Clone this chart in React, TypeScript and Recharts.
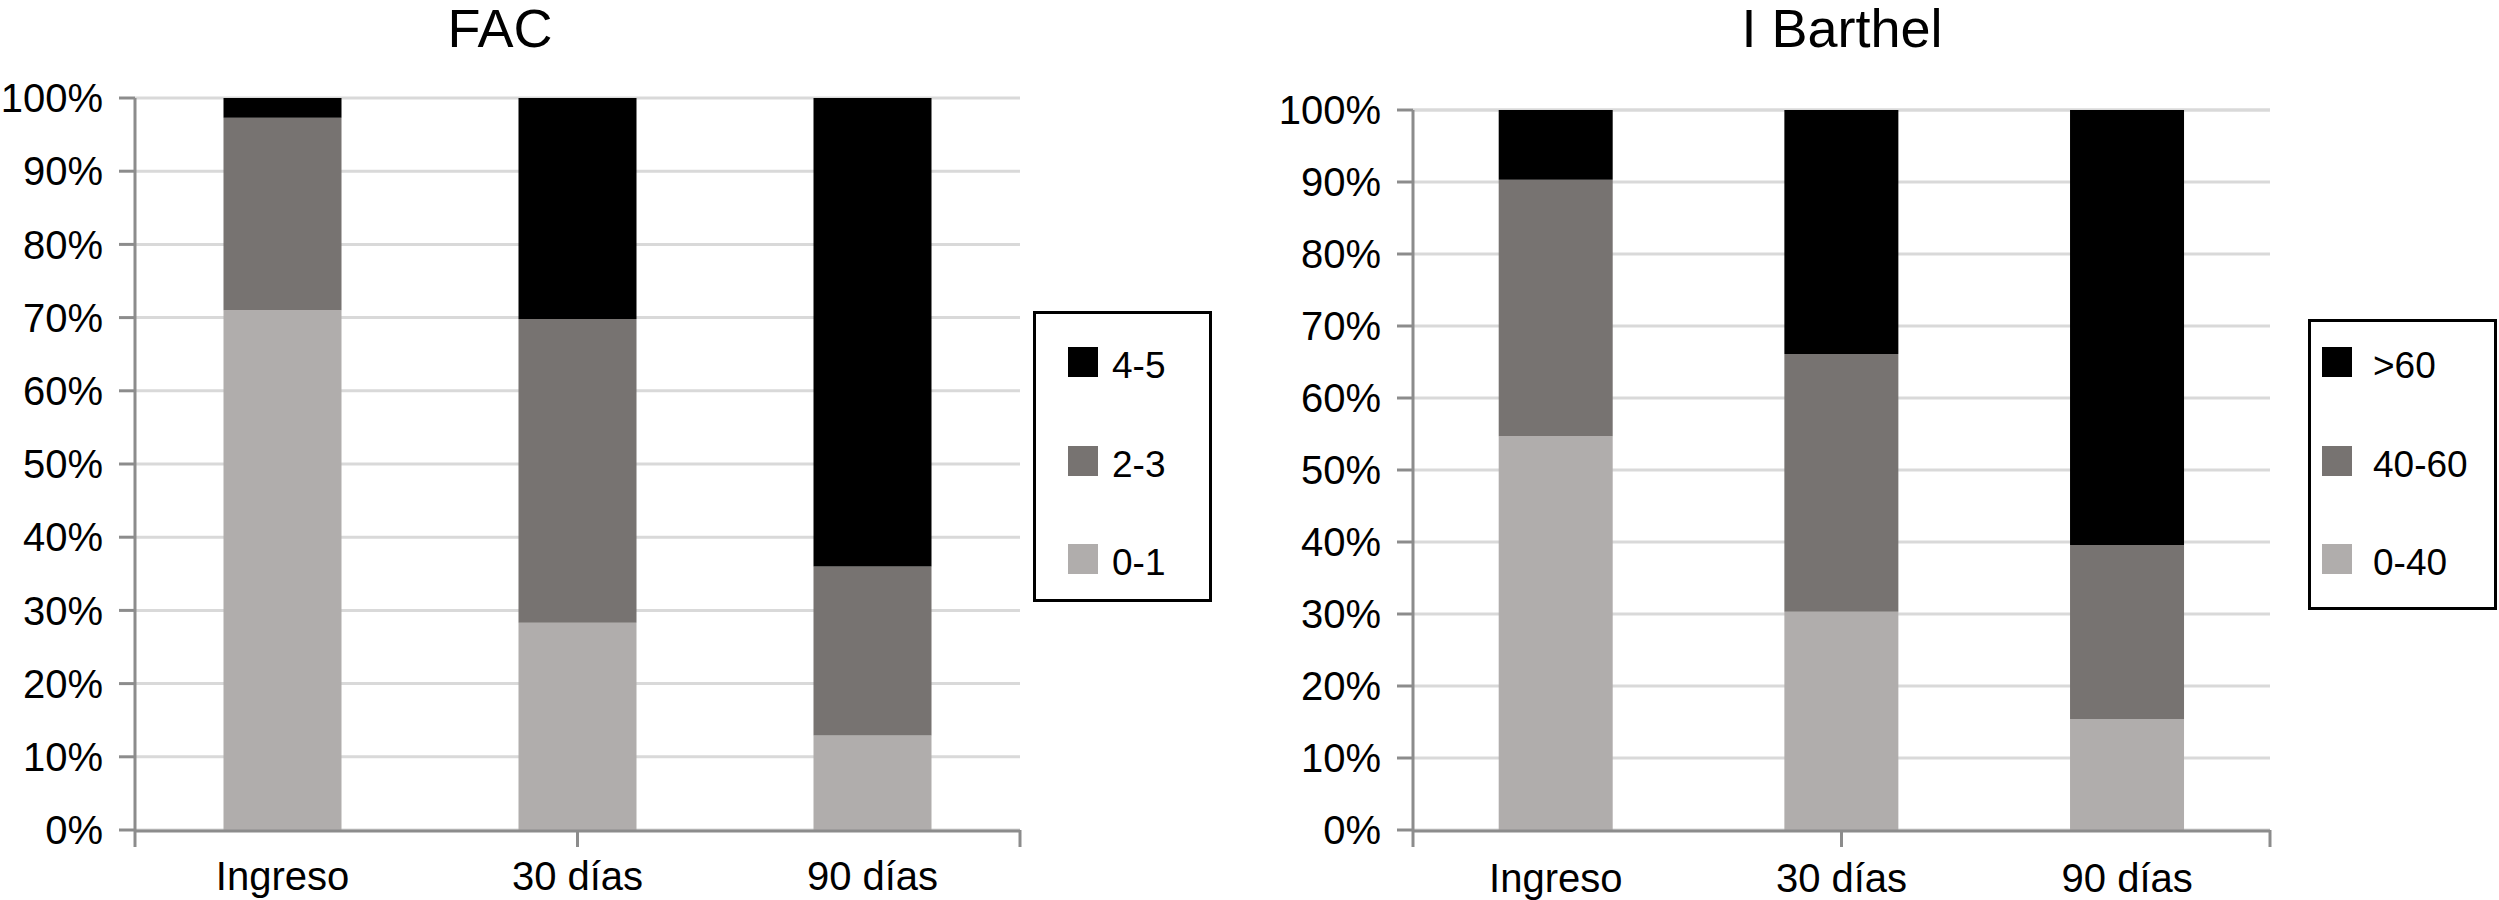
import React from "react";
import { Bar, BarChart, CartesianGrid, Legend, XAxis, YAxis } from "recharts";

const periods = ["Ingreso", "30 días", "90 días"];

// FAC distribution (% of patients)
const facLow = [71.0, 28.3, 12.9]; // 0-1
const facMid = [26.3, 41.5, 23.1]; // 2-3
const facHigh = [2.7, 30.2, 64.0]; // 4-5
const facLabels = ["0-1", "2-3", "4-5"];

// Barthel index distribution (% of patients)
const barthelLow = [54.7, 30.3, 15.4]; // 0-40
const barthelMid = [35.6, 35.8, 24.2]; // 40-60
const barthelHigh = [9.7, 33.9, 60.4]; // >60
const barthelLabels = ["0-40", "40-60", ">60"];

const percentTicks = [0, 10, 20, 30, 40, 50, 60, 70, 80, 90, 100];
const edgeTicks = [0, 1, 2, 3];
const shades = ["#b0adac", "#777371", "#000000"];

const font = "'Liberation Sans', Arial, Helvetica, sans-serif";
const axisGray = "#8c8c8c";
const gridGray = "#d9d9d9";

// axis ids: the boundary-tick axis must sit first, right on the plot edge
const EDGE = "a_edge";
const CAT = "b_cat";

type Row = { period: string; low: number; mid: number; high: number };

const buildRows = (low: number[], mid: number[], high: number[]): Row[] =>
  periods.map((period, i) => ({ period, low: low[i], mid: mid[i], high: high[i] }));

type LegendCfg = {
  top: number;
  right: number;
  offsetLeft: number;
  boxW: number;
  boxH: number;
  padLeft: number;
  gap: number;
  firstTop: number;
};

const BoxLegend = ({ payload, cfg }: { payload?: any[]; cfg: LegendCfg }) => {
  const items = [...(payload ?? [])].reverse();
  return (
    <div
      style={{
        marginLeft: cfg.offsetLeft,
        width: cfg.boxW,
        height: cfg.boxH,
        border: "3px solid #000",
        boxSizing: "border-box",
        position: "relative",
        background: "#fff",
      }}
    >
      {items.map((item, i) => (
        <div
          key={item.value}
          style={{
            position: "absolute",
            left: cfg.padLeft - 3,
            top: cfg.firstTop - 3 + i * 98.5,
            display: "flex",
            alignItems: "flex-start",
          }}
        >
          <div style={{ width: 30, height: 30, background: item.color }} />
          <span
            style={{
              marginLeft: cfg.gap,
              marginTop: 4,
              fontSize: 37,
              lineHeight: "30px",
              fontFamily: font,
              color: "#000",
              whiteSpace: "nowrap",
            }}
          >
            {item.value}
          </span>
        </div>
      ))}
    </div>
  );
};

// tick marks only, no text, for the category boundaries
const noLabel = () => <g />;

type PanelProps = {
  rows: Row[];
  labels: string[];
  width: number;
  top: number;
  right: number;
  yAxisWidth: number;
  xTickMargin: number;
  legend: LegendCfg;
};

function StackedPanel({ rows, labels, width, top, right, yAxisWidth, xTickMargin, legend }: PanelProps) {
  return (
    <BarChart
      width={width}
      height={900}
      data={rows}
      margin={{ top, right, bottom: 0, left: 0 }}
      barCategoryGap="30%"
    >
      <CartesianGrid vertical={false} stroke={gridGray} strokeWidth={3} xAxisId={CAT} />
      <XAxis
        xAxisId={EDGE}
        type="number"
        domain={[0, 3]}
        ticks={edgeTicks}
        interval={0}
        tick={noLabel}
        axisLine={false}
        tickLine={{ stroke: axisGray, strokeWidth: 3 }}
        tickSize={17}
        height={1}
      />
      <XAxis
        xAxisId={CAT}
        dataKey="period"
        tickLine={false}
        tickSize={16}
        tickMargin={xTickMargin}
        axisLine={{ stroke: axisGray, strokeWidth: 3 }}
        tick={{ fill: "#000", fontSize: 40, fontFamily: font }}
        interval={0}
        height={69}
      />
      <YAxis
        domain={[0, 100]}
        ticks={percentTicks}
        interval={0}
        tickFormatter={(v: number) => `${v}%`}
        width={yAxisWidth}
        tickSize={16}
        tickMargin={16}
        axisLine={{ stroke: axisGray, strokeWidth: 3 }}
        tickLine={{ stroke: axisGray, strokeWidth: 3 }}
        tick={{ fill: "#000", fontSize: 40, fontFamily: font }}
      />
      <Legend
        layout="vertical"
        align="right"
        verticalAlign="middle"
        wrapperStyle={{ top: legend.top, right: legend.right, left: "auto", width: "auto" }}
        content={(props: any) => <BoxLegend payload={props.payload} cfg={legend} />}
      />
      <Bar xAxisId={CAT} dataKey="low" stackId="s" name={labels[0]} fill={shades[0]} isAnimationActive={false} />
      <Bar xAxisId={CAT} dataKey="mid" stackId="s" name={labels[1]} fill={shades[1]} isAnimationActive={false} />
      <Bar xAxisId={CAT} dataKey="high" stackId="s" name={labels[2]} fill={shades[2]} isAnimationActive={false} />
    </BarChart>
  );
}

const titleStyle = (center: number): React.CSSProperties => ({
  position: "absolute",
  left: center - 300,
  top: 1,
  width: 600,
  textAlign: "center",
  fontFamily: font,
  fontSize: 54,
  lineHeight: "54px",
  color: "#000",
});

export default function App() {
  const facRows = buildRows(facLow, facMid, facHigh);
  const barthelRows = buildRows(barthelLow, barthelMid, barthelHigh);

  return (
    <div style={{ position: "absolute", left: 0, top: 0, width: 2499, height: 900, background: "#fff" }}>
      <div style={{ position: "absolute", left: 0, top: 0 }}>
        <StackedPanel
          rows={facRows}
          labels={facLabels}
          width={1250}
          top={98}
          right={38}
          yAxisWidth={135}
          xTickMargin={15}
          legend={{ top: 311, right: 38, offsetLeft: 13, boxW: 179, boxH: 291, padLeft: 35, gap: 14, firstTop: 36 }}
        />
      </div>
      <div style={{ position: "absolute", left: 1250, top: 0 }}>
        <StackedPanel
          rows={barthelRows}
          labels={barthelLabels}
          width={1249}
          top={110}
          right={2}
          yAxisWidth={163}
          xTickMargin={17}
          legend={{ top: 319, right: 2, offsetLeft: 38, boxW: 189, boxH: 291, padLeft: 14, gap: 21, firstTop: 28 }}
        />
      </div>
      <div style={titleStyle(500)}>FAC</div>
      <div style={titleStyle(1842)}>I Barthel</div>
    </div>
  );
}
